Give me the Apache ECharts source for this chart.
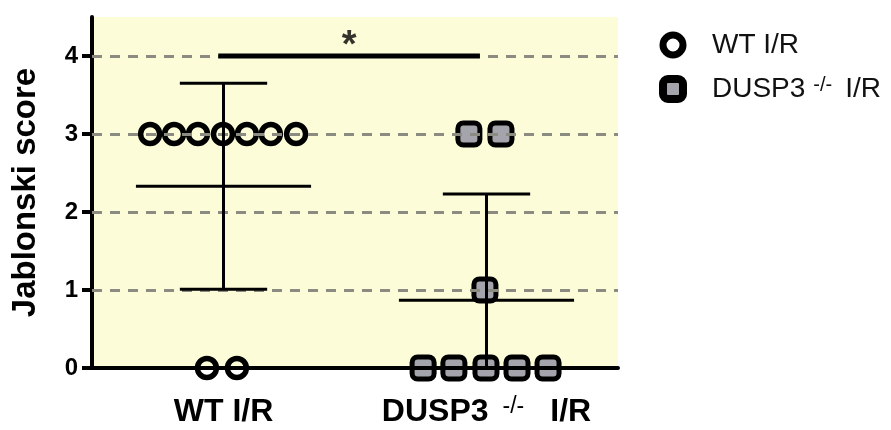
<!DOCTYPE html>
<html>
<head>
<meta charset="utf-8">
<script src="https://cdn.jsdelivr.net/npm/echarts@6/dist/echarts.min.js"></script>
<style>html,body{margin:0;padding:0;background:#fff;}#c{width:891px;height:430px;}</style>
</head>
<body>
<div id="c"></div>
<script>
// ---- data ----
const categories = ['WT I/R', 'DUSP3 -/- I/R'];
const yTicks = [0, 1, 2, 3, 4];
const gridValues = [1, 2, 3, 4];
// WT I/R individual scores and their horizontal (jittered) positions
const wtScores = [3, 3, 3, 3, 3, 3, 3, 0, 0];
const wtX = [0.221, 0.312, 0.403, 0.498, 0.589, 0.680, 0.776, 0.437, 0.551];
// DUSP3-/- I/R individual scores and positions
const duspScores = [3, 3, 1, 0, 0, 0, 0, 0];
const duspX = [1.433, 1.555, 1.494, 1.259, 1.376, 1.498, 1.616, 1.734];
// group summaries: mean and SD
const groupCenter = [0.5, 1.5];
const groupMean = [2.33, 0.87];
const groupSD = [1.32, 1.36];
// significance bar
const sigFrom = [0.48, 4];
const sigTo = [1.475, 4];
const sigText = '*';

const chart = echarts.init(document.getElementById('c'), null, {renderer: 'canvas'});
const FONT = '"Liberation Sans", Arial, Helvetica, sans-serif';

function pts(xs, ys) { return xs.map((x, i) => [x, ys[i]]); }

const option = {
  animation: false,
  backgroundColor: '#ffffff',
  textStyle: {fontFamily: FONT},
  grid: {left: 92, right: 273, top: 17, bottom: 62, show: true, backgroundColor: '#fdfcd8', borderWidth: 0},
  legend: {
    orient: 'vertical', left: 654, top: 26, itemWidth: 20, itemHeight: 20, itemGap: 16,
    selectedMode: false,
    data: [
      {name: categories[0], icon: 'circle', itemStyle: {color: 'rgba(0,0,0,0)', borderColor: '#000', borderWidth: 7}},
      {name: categories[1], icon: 'roundRect', itemStyle: {color: '#a4a4ac', borderColor: '#000', borderWidth: 8}}
    ],
    formatter: function (n) {
      return n === categories[0] ? '{f|WT I/R}' : '{f|DUSP3}{s|-/-}{t|I/R}';
    },
    textStyle: {
      color: '#111', fontFamily: FONT,
      rich: {
        f: {fontSize: 28, fontFamily: FONT, color: '#111', lineHeight: 28, padding: [0, 0, 0, 24]},
        t: {fontSize: 28, fontFamily: FONT, color: '#111', lineHeight: 28, padding: [0, 0, 0, 13]},
        s: {fontSize: 20, fontFamily: FONT, color: '#111', verticalAlign: 'top', lineHeight: 14, padding: [0, 0, 0, 8]}
      }
    }
  },
  xAxis: [
    {
      type: 'category', data: categories, z: 10,
      axisLine: {lineStyle: {color: '#000', width: 4}},
      axisTick: {show: false},
      splitLine: {show: false},
      axisLabel: {
        margin: 27, interval: 0,
        formatter: function (v) {
          return v === categories[0] ? '{b|WT I/R}' : '{b|DUSP3}{s|-/-}{c|I/R}';
        },
        rich: {
          b: {fontSize: 32, fontWeight: 'bold', fontFamily: FONT, color: '#000', lineHeight: 34},
          c: {fontSize: 32, fontWeight: 'bold', fontFamily: FONT, color: '#000', lineHeight: 34, padding: [0, 0, 0, 26]},
          s: {fontSize: 23, fontWeight: 'normal', fontFamily: FONT, color: '#000', verticalAlign: 'top', lineHeight: 14, padding: [0, 0, 0, 14]}
        }
      }
    },
    {type: 'value', min: 0, max: 2, show: false}
  ],
  yAxis: {
    type: 'value', min: 0, max: 4.5, interval: 1, z: 1,
    name: 'Jablonski score', nameLocation: 'middle', nameGap: 50,
    nameTextStyle: {fontSize: 33, fontWeight: 'bold', color: '#000', fontFamily: FONT},
    axisLine: {show: true, lineStyle: {color: '#000', width: 4}},
    axisTick: {show: true, inside: false, length: 10, customValues: yTicks, lineStyle: {color: '#000', width: 4}},
    axisLabel: {
      margin: 14, fontSize: 24, fontWeight: 'bold', color: '#000', fontFamily: FONT,
      customValues: yTicks
    },
    splitLine: {show: false}
  },
  series: [
    {
      type: 'line', xAxisIndex: 1, z: 1, data: [], silent: true,
      markLine: {
        silent: true, symbol: 'none', animation: false,
        label: {show: false},
        lineStyle: {color: '#8b8b82', width: 3, type: [10, 8]},
        data: gridValues.map(v => ({yAxis: v}))
      }
    },
    {
      name: categories[0], type: 'scatter', xAxisIndex: 1, z: 2,
      symbol: 'circle', symbolSize: 19,
      itemStyle: {color: 'rgba(0,0,0,0)', borderColor: '#000', borderWidth: 5.5, opacity: 1},
      data: pts(wtX, wtScores)
    },
    {
      name: categories[1], type: 'scatter', xAxisIndex: 1, z: 2,
      symbol: 'roundRect', symbolSize: 22,
      itemStyle: {color: '#a4a4ac', borderColor: '#000', borderWidth: 5, opacity: 1},
      data: pts(duspX, duspScores)
    },
    {
      type: 'custom', xAxisIndex: 1, z: 5, silent: true,
      data: groupCenter.map((c, i) => [c, groupMean[i], groupSD[i]]),
      renderItem: function (params, api) {
        const c = api.value(0), m = api.value(1), s = api.value(2);
        const hiV = m + s, loRaw = m - s, loV = Math.max(0, loRaw);
        const style = {stroke: '#000', lineWidth: 3};
        const seg = (x1, y1, x2, y2) => {
          const a = api.coord([x1, y1]), b = api.coord([x2, y2]);
          return {type: 'line', shape: {x1: a[0], y1: a[1], x2: b[0], y2: b[1]}, style: style};
        };
        const meanHalf = 0.333, capHalf = 0.166;
        const ch = [
          seg(c, loV, c, hiV),
          seg(c - meanHalf, m, c + meanHalf, m),
          seg(c - capHalf, hiV, c + capHalf, hiV)
        ];
        if (loRaw >= 0) ch.push(seg(c - capHalf, loV, c + capHalf, loV));
        return {type: 'group', children: ch};
      }
    },
    {
      type: 'line', xAxisIndex: 1, z: 5, symbol: 'none', silent: true,
      lineStyle: {color: '#000', width: 5},
      data: [sigFrom, sigTo]
    },
    {
      type: 'scatter', xAxisIndex: 1, z: 5, symbolSize: 0, silent: true,
      data: [[(sigFrom[0] + sigTo[0]) / 2, 4.12]],
      label: {show: true, position: 'inside', formatter: sigText, fontSize: 38, fontWeight: 'bold', color: '#000', fontFamily: FONT}
    }
  ]
};
chart.setOption(option);
</script>
</body>
</html>
